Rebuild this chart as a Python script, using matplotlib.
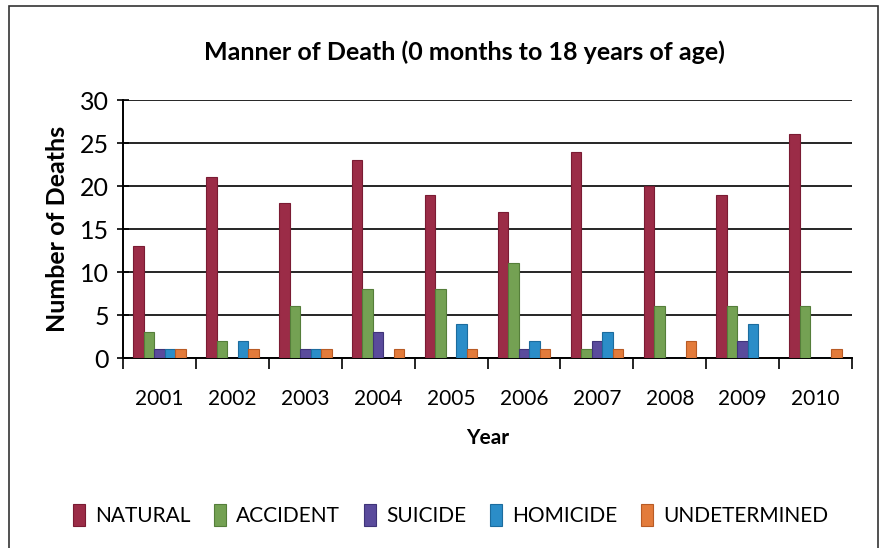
import matplotlib
matplotlib.use("Agg")
import matplotlib.pyplot as plt
import numpy as np
from matplotlib.patches import Rectangle

years = ['2001', '2002', '2003', '2004', '2005', '2006', '2007', '2008', '2009', '2010']
natural = [13, 21, 18, 23, 19, 17, 24, 20, 19, 26]
accident = [3, 2, 6, 8, 8, 11, 1, 6, 6, 6]
suicide = [1, 0, 1, 3, 0, 1, 2, 0, 2, 0]
homicide = [1, 2, 1, 0, 4, 2, 3, 0, 4, 0]
undetermined = [1, 1, 1, 1, 1, 1, 1, 2, 0, 1]

series_names = ['NATURAL', 'ACCIDENT', 'SUICIDE', 'HOMICIDE', 'UNDETERMINED']
series_colors = ['#9B2C47', '#74A153', '#5A4B9C', '#2B8DC8', '#E37B3B']
edge_colors = ['#7A1B33', '#557E3A', '#3F3479', '#1C6C9E', '#B85B25']

plt.rcParams['font.family'] = ['Lato', 'DejaVu Sans']

fig = plt.figure(figsize=(8.82, 5.48), dpi=100)
ax = fig.add_axes([0.1395, 0.3467, 0.8265, 0.4708])

x = np.arange(len(years))
bar_width = 0.144
all_series = [natural, accident, suicide, homicide, undetermined]
for i, vals in enumerate(all_series):
    ax.bar(x + (i - 2) * bar_width, vals, bar_width, color=series_colors[i],
           edgecolor=edge_colors[i], linewidth=0.8, label=series_names[i], zorder=3)

ax.set_xlim(-0.5, len(years) - 0.5)
ax.set_ylim(0, 30)
ax.set_yticks(range(0, 31, 5))
ax.tick_params(axis='y', labelsize=18, direction='inout', length=8, width=1.2, pad=6)
ax.set_xticks(x)
ax.set_xticklabels(years)
ax.tick_params(axis='x', which='major', length=0, labelsize=15, pad=22)
ax.set_xticks(np.arange(-0.5, len(years), 1), minor=True)
ax.tick_params(axis='x', which='minor', length=8, width=1.2, direction='out')

ax.yaxis.grid(True, color='black', linewidth=1.2, zorder=0)
ax.set_axisbelow(True)
for s in ['top', 'right']:
    ax.spines[s].set_visible(False)
ax.spines['left'].set_linewidth(1.4)
ax.spines['bottom'].set_linewidth(1.4)

ax.set_xlabel('Year', fontsize=15, fontweight='bold', labelpad=14)
ax.set_ylabel('Number of Deaths', fontsize=18, fontweight='bold', labelpad=8)
fig.text(0.527, 0.905, 'Manner of Death (0 months to 18 years of age)',
         fontsize=18, fontweight='bold', ha='center', va='center')

ax.legend(loc='center', bbox_to_anchor=(0.511, 0.06), bbox_transform=fig.transFigure,
          ncol=5, frameon=False, fontsize=15, handlelength=0.55, handleheight=1.2,
          handletextpad=0.5, columnspacing=1.15)

# outer chart border
fig.patches.append(Rectangle((9 / 882, -0.05), (878 - 9) / 882, 1.05 - 6 / 548,
                             transform=fig.transFigure, fill=False,
                             edgecolor='#333333', linewidth=1.2))

fig.savefig('out.png', dpi=100)
